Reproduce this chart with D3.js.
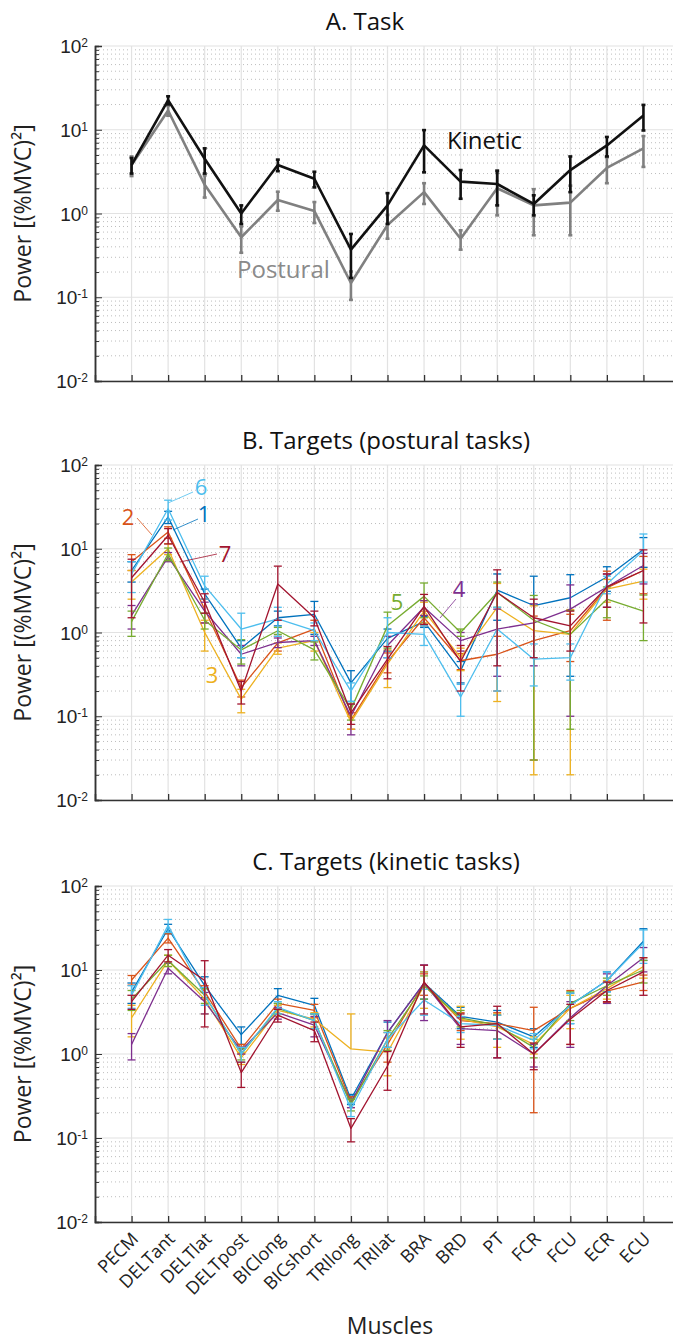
<!DOCTYPE html>
<html>
<head>
<meta charset="utf-8">
<script src="https://cdn.jsdelivr.net/npm/d3@7"></script>
<style>
  body { margin: 0; background: #fff; }
  svg { display: block; font-family: "Open Sans", sans-serif; }
</style>
</head>
<body>
<svg id="chart" width="673" height="1342"></svg>
<script>
const muscles = ["PECM", "DELTant", "DELTlat", "DELTpost", "BIClong", "BICshort", "TRIlong",
  "TRIlat", "BRA", "BRD", "PT", "FCR", "FCU", "ECR", "ECU"];

// A. task averages (mean and sd, (%MVC)^2)
const kineticMean = [3.8, 22.6, 4.5, 1.0, 3.8, 2.6, 0.37, 1.25, 6.5, 2.4, 2.25, 1.3, 3.3, 6.5, 14.8];
const kineticSd = [0.8, 2.5, 1.5, 0.25, 0.6, 0.55, 0.2, 0.5, 3.4, 0.9, 1.0, 0.35, 1.5, 1.7, 5];
const posturalMean = [3.8, 17, 2.2, 0.52, 1.45, 1.07, 0.148, 0.73, 1.8, 0.5, 2.0, 1.25, 1.35, 3.5, 6.0];
const posturalSd = [1.0, 2.3, 0.65, 0.18, 0.37, 0.3, 0.055, 0.23, 0.5, 0.13, 1.05, 0.7, 0.8, 1.2, 2.4];

// B. targets 1..7, postural tasks
const posturalTargetMean = [
  [5.5, 24, 2.9, 0.65, 1.5, 1.65, 0.25, 0.85, 1.35, 0.35, 3.2, 2.1, 2.6, 4.6, 9.8],
  [7, 15.8, 1.9, 0.22, 0.75, 1.1, 0.09, 0.45, 1.5, 0.46, 0.55, 0.8, 1.05, 3.4, 5.5],
  [4, 10, 1.0, 0.16, 0.65, 0.8, 0.085, 0.42, 1.8, 0.5, 2.0, 1.05, 0.95, 3.3, 4.1],
  [1.6, 8, 1.8, 0.55, 0.76, 0.8, 0.1, 0.7, 2.0, 0.8, 1.1, 1.3, 1.9, 3.5, 6.3],
  [1.35, 8.7, 1.4, 0.62, 1.05, 0.62, 0.12, 1.2, 2.7, 1.0, 3.0, 1.4, 0.95, 2.5, 1.8],
  [5, 30, 3.6, 1.1, 1.45, 1.05, 0.2, 1.0, 0.95, 0.17, 1.1, 0.48, 0.5, 3.8, 9.5],
  [4.5, 14.4, 2.3, 0.2, 3.8, 1.5, 0.11, 0.48, 2.05, 0.45, 3.0, 1.5, 1.2, 3.5, 5.5]
];
const posturalTargetSd = [
  [1.5, 4, 0.4, 0.15, 0.3, 0.7, 0.1, 0.25, 0.2, 0.1, 1.8, 2.6, 2.3, 1.5, 3.8],
  [1.5, 2.5, 0.6, 0.05, 0.15, 0.3, 0.02, 0.12, 0.3, 0.1, 0.35, 0.77, 0.6, 2.0, 2.6],
  [1.5, 1.5, 0.4, 0.05, 0.1, 0.2, 0.015, 0.2, 0.5, 0.15, 1.85, 1.03, 0.93, 1.0, 1.6],
  [0.5, 1.0, 0.5, 0.15, 0.1, 0.1, 0.04, 0.2, 0.4, 0.2, 0.8, 0.9, 1.8, 1.5, 2.5],
  [0.45, 1.5, 0.3, 0.2, 0.1, 0.15, 0.03, 0.55, 1.2, 0.1, 1.0, 1.37, 0.88, 1.0, 1.0],
  [2.0, 8, 1.1, 0.6, 0.55, 0.25, 0.05, 0.5, 0.25, 0.07, 0.9, 0.25, 0.23, 0.9, 5.5],
  [3, 3, 0.6, 0.06, 2.4, 0.3, 0.03, 0.2, 0.8, 0.25, 2.6, 1.0, 0.6, 1.5, 4.2]
];

// C. targets 1..7, kinetic tasks
const kineticTargetMean = [
  [5.5, 31, 6.5, 1.7, 5.0, 3.8, 0.29, 1.8, 7, 2.8, 2.4, 1.6, 3.8, 7.5, 22],
  [7.6, 24, 5.5, 1.15, 4.0, 3.3, 0.27, 1.3, 7, 2.5, 2.3, 1.9, 3.5, 5.6, 7.2],
  [2.7, 13, 4.5, 0.9, 3.3, 2.6, 1.15, 1.05, 6.5, 2.6, 2.1, 1.3, 3.5, 6, 11],
  [1.3, 10.5, 4.2, 1.1, 3.1, 2.2, 0.26, 1.8, 7, 2.0, 1.9, 1.0, 2.7, 6.5, 14],
  [4.5, 13, 5, 1.0, 3.5, 2.5, 0.25, 1.5, 6.5, 2.7, 2.2, 1.2, 4.0, 6.5, 10],
  [5, 34, 5, 1.0, 3.6, 2.5, 0.22, 1.5, 4.4, 2.3, 2.2, 1.45, 3.8, 7.5, 21],
  [4.2, 15, 7.5, 0.6, 2.9, 1.9, 0.13, 0.72, 7.2, 2.1, 2.3, 1.0, 2.6, 5.7, 9.5]
];
const kineticTargetSd = [
  [1.5, 4, 1.8, 0.4, 1.0, 0.8, 0.04, 0.6, 2.5, 0.8, 0.9, 0.4, 1.5, 2, 9],
  [1.0, 3, 1.0, 0.15, 0.5, 0.6, 0.04, 0.5, 2, 0.6, 0.8, 1.7, 2.2, 1.5, 1.5],
  [1.1, 2, 1.5, 0.15, 0.5, 0.5, 1.85, 0.5, 3, 1.1, 0.9, 0.3, 1.5, 1.5, 3],
  [0.45, 1.5, 1.2, 0.1, 0.5, 0.6, 0.03, 0.7, 4.5, 0.7, 1.0, 0.3, 1.5, 2.5, 4.5],
  [1.2, 2, 1, 0.15, 0.5, 0.5, 0.04, 0.4, 2, 0.6, 0.7, 0.3, 1.5, 1.5, 3],
  [1.5, 6, 1.2, 0.2, 0.6, 0.5, 0.04, 0.3, 1.5, 0.5, 0.7, 0.3, 1.5, 2, 9],
  [0.8, 2.5, 5.4, 0.2, 0.5, 0.5, 0.04, 0.35, 4.2, 0.9, 1.4, 0.35, 1.3, 1.5, 4.5]
];

const targetColors = ["#0072BD", "#D95319", "#EDB120", "#7E2F8E", "#77AC30", "#4DBEEE", "#A2142F"];
const yTicks = [0.01, 0.1, 1, 10, 100];

const svg = d3.select("#chart");
const x = d3.scaleLinear().domain([0, muscles.length + 1]).range([95, 680]);
const ylabel = "Power [(%MVC)²]";

function drawPanel(top, bottom, title, titleX, showNames) {
  const y = d3.scaleLog().domain([0.01, 100]).range([bottom, top]);
  const g = svg.append("g");

  // minor grid (dotted)
  const minors = [];
  for (let e = -2; e < 2; e++) for (let k = 2; k < 10; k++) minors.push(k * Math.pow(10, e));
  g.append("g").selectAll("line").data(minors).join("line")
    .attr("x1", x(0)).attr("x2", x(16))
    .attr("y1", d => y(d)).attr("y2", d => y(d))
    .attr("stroke", "#bdbdbd").attr("stroke-width", 1).attr("stroke-dasharray", "1,3");

  // major grid
  g.append("g").selectAll("line").data(yTicks).join("line")
    .attr("x1", x(0)).attr("x2", x(16))
    .attr("y1", d => y(d)).attr("y2", d => y(d))
    .attr("stroke", "#e2e2e2").attr("stroke-width", 1.2);
  g.append("g").selectAll("line").data(muscles).join("line")
    .attr("x1", (d, i) => x(i + 1)).attr("x2", (d, i) => x(i + 1))
    .attr("y1", top).attr("y2", bottom)
    .attr("stroke", "#e2e2e2").attr("stroke-width", 1.2);

  // y axis
  const ay = g.append("g").attr("transform", `translate(${x(0)},0)`)
    .call(d3.axisLeft(y).tickValues(yTicks).tickSize(-7).tickPadding(8).tickFormat(""));
  ay.append("g").call(d3.axisLeft(y).tickValues(minors).tickSize(-4).tickFormat(""));
  ay.selectAll("path.domain").attr("stroke", "#333").attr("stroke-width", 1.5);
  ay.selectAll("line").attr("stroke", "#333");
  ay.selectAll(".tick").filter(d => yTicks.includes(d)).append("text")
    .attr("x", -7).attr("dy", "0.35em").attr("text-anchor", "end")
    .attr("fill", "#222").style("font-size", "19px")
    .each(function (d) {
      const t = d3.select(this);
      t.append("tspan").text("10");
      t.append("tspan").attr("dy", "-0.5em").style("font-size", "12px").text(Math.round(Math.log10(d)));
    });

  // x axis
  const ax = g.append("g").attr("transform", `translate(0,${bottom})`)
    .call(d3.axisBottom(x).tickValues(d3.range(1, muscles.length + 1)).tickSize(-6).tickFormat(""));
  ax.select("path.domain").attr("stroke", "#333").attr("stroke-width", 1.5);
  ax.selectAll("line").attr("stroke", "#333").attr("stroke-width", 1.3);
  if (showNames) {
    g.append("g").selectAll("text").data(muscles).join("text")
      .attr("transform", (d, i) => `translate(${x(i + 1) + 8},${bottom + 18}) rotate(-45)`)
      .attr("text-anchor", "end").attr("fill", "#222").style("font-size", "18px")
      .text(d => d);
  }

  g.append("text").attr("x", titleX).attr("y", top - 16).attr("text-anchor", "middle")
    .style("font-size", "24px").attr("fill", "#111").text(title);
  g.append("text")
    .attr("transform", `translate(31,${(top + bottom) / 2}) rotate(-90)`)
    .attr("text-anchor", "middle").style("font-size", "23px").attr("fill", "#222").text(ylabel);
  return { g, y };
}

function drawSeries(g, y, mean, sd, color, lw, cap) {
  const line = d3.line().x((d, i) => x(i + 1)).y(d => y(d));
  g.append("path").datum(mean).attr("d", line)
    .attr("fill", "none").attr("stroke", color).attr("stroke-width", lw).attr("stroke-linejoin", "round");
  const bars = mean.map((m, i) => ({ i, m, hi: m + sd[i], lo: m - sd[i] }));
  const eb = g.append("g").attr("stroke", color).attr("stroke-width", lw);
  eb.selectAll("line.v").data(bars).join("line").attr("class", "v")
    .attr("x1", d => x(d.i + 1)).attr("x2", d => x(d.i + 1))
    .attr("y1", d => y(d.lo > 0 ? Math.max(d.lo, 0.01) : d.m)).attr("y2", d => y(d.hi));
  eb.selectAll("line.hi").data(bars).join("line").attr("class", "hi")
    .attr("x1", d => x(d.i + 1) - cap).attr("x2", d => x(d.i + 1) + cap)
    .attr("y1", d => y(d.hi)).attr("y2", d => y(d.hi));
  eb.selectAll("line.lo").data(bars.filter(d => d.lo >= 0.01)).join("line").attr("class", "lo")
    .attr("x1", d => x(d.i + 1) - cap).attr("x2", d => x(d.i + 1) + cap)
    .attr("y1", d => y(d.lo)).attr("y2", d => y(d.lo));
}

// Panel A
const pa = drawPanel(46, 381, "A. Task", 365, false);
drawSeries(pa.g, pa.y, posturalMean, posturalSd, "#808080", 2.6, 2);
drawSeries(pa.g, pa.y, kineticMean, kineticSd, "#111", 2.6, 2);
pa.g.append("text").attr("x", 447).attr("y", 149).style("font-size", "24px").attr("fill", "#111").text("Kinetic");
pa.g.append("text").attr("x", 237).attr("y", 278).style("font-size", "24px").attr("fill", "#8a8a8a").text("Postural");

// Panel B
const pb = drawPanel(465, 800, "B. Targets (postural tasks)", 386, false);
posturalTargetMean.forEach((m, k) => drawSeries(pb.g, pb.y, m, posturalTargetSd[k], targetColors[k], 1.3, 4));
const notes = [
  { n: 6, tx: 201, ty: 495, line: [[168, 503], [193, 492]] },
  { n: 1, tx: 204, ty: 522, line: [[173, 530], [198, 519]] },
  { n: 2, tx: 128, ty: 525, line: [[137, 518], [152, 535]] },
  { n: 7, tx: 225, ty: 562, line: [[217, 554], [180, 562]] },
  { n: 3, tx: 212, ty: 683, line: null },
  { n: 5, tx: 397, ty: 610, line: null },
  { n: 4, tx: 459, ty: 597, line: [[456, 599], [440, 618]] }
];
notes.forEach(d => {
  const c = targetColors[d.n - 1];
  pb.g.append("text").attr("x", d.tx).attr("y", d.ty).attr("text-anchor", "middle")
    .style("font-size", "22px").attr("fill", c).text(d.n);
  if (d.line) pb.g.append("line")
    .attr("x1", d.line[0][0]).attr("y1", d.line[0][1]).attr("x2", d.line[1][0]).attr("y2", d.line[1][1])
    .attr("stroke", c).attr("stroke-width", 0.8);
});

// Panel C
const pc = drawPanel(886, 1222, "C. Targets (kinetic tasks)", 386, true);
kineticTargetMean.forEach((m, k) => drawSeries(pc.g, pc.y, m, kineticTargetSd[k], targetColors[k], 1.3, 4));
svg.append("text").attr("x", 390).attr("y", 1334).attr("text-anchor", "middle")
  .style("font-size", "23px").attr("fill", "#222").text("Muscles");
</script>
</body>
</html>
